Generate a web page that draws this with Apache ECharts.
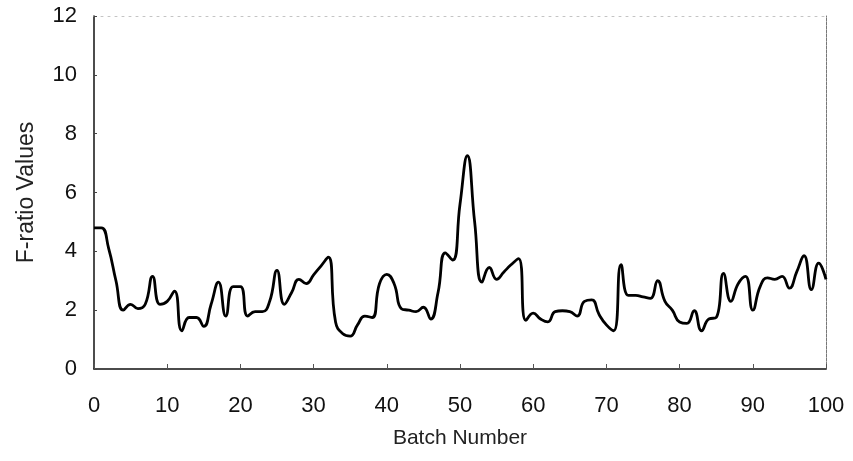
<!DOCTYPE html>
<html>
<head>
<meta charset="utf-8">
<script src="https://cdn.jsdelivr.net/npm/echarts@6/dist/echarts.min.js"></script>
<style>
  html, body { margin: 0; padding: 0; background: #fff; }
  #chart { width: 853px; height: 461px; }
</style>
</head>
<body>
<div id="chart"></div>
<script>
// F-ratio per batch, batches 0..100
const fRatio = [
  4.8, 4.8, 4.1, 3.0, 2.0, 2.2, 2.05, 2.2, 3.15, 2.2,
  2.3, 2.65, 1.3, 1.75, 1.75, 1.45, 2.2, 2.95, 1.8, 2.8,
  2.8, 1.8, 1.95, 1.95, 2.3, 3.35, 2.2, 2.6, 3.05, 2.9,
  3.2, 3.5, 3.8, 1.6, 1.2, 1.12, 1.5, 1.8, 1.75, 2.9,
  3.22, 2.9, 2.05, 2.0, 1.95, 2.1, 1.7, 2.6, 3.95, 3.7,
  5.6, 7.25, 5.0, 2.95, 3.45, 3.05, 3.3, 3.55, 3.75, 1.65,
  1.9, 1.7, 1.6, 1.95, 1.98, 1.95, 1.8, 2.3, 2.35, 1.85,
  1.5, 1.3, 3.55, 2.5, 2.5, 2.45, 2.4, 3.0, 2.3, 2.0,
  1.6, 1.55, 1.98, 1.3, 1.7, 1.75, 3.25, 2.3, 2.9, 3.15,
  2.0, 2.8, 3.1, 3.05, 3.15, 2.75, 3.3, 3.85, 2.7, 3.6,
  3.05
];
const xTicks = { min: 0, max: 100, interval: 10 };
const yTicks = { min: 0, max: 12, interval: 2 };

const points = fRatio.map((v, i) => [i, v]);

const fontStack = '"Liberation Sans", Arial, sans-serif';
const labelFont = { color: '#111', fontSize: 22, fontFamily: fontStack };

const chart = echarts.init(document.getElementById('chart'), null, { renderer: 'canvas' });
chart.setOption({
  animation: false,
  backgroundColor: '#fff',
  grid: { left: 94, right: 27, top: 16, bottom: 92, containLabel: false },
  xAxis: [
    {
      type: 'value', position: 'bottom',
      min: xTicks.min, max: xTicks.max, interval: xTicks.interval,
      name: 'Batch Number', nameLocation: 'middle', nameGap: 59,
      nameTextStyle: { color: '#222', fontSize: 21, fontFamily: fontStack },
      axisLine: { onZero: false, lineStyle: { color: '#111', width: 1.5 } },
      axisTick: { inside: true, length: 5, lineStyle: { color: '#555', width: 1 } },
      axisLabel: Object.assign({ margin: 26 }, labelFont),
      splitLine: { show: false }
    },
    {
      type: 'value', position: 'top',
      min: xTicks.min, max: xTicks.max,
      axisLine: { onZero: false, lineStyle: { color: '#c4c4c4', width: 1, type: [2, 5] } },
      axisTick: { show: false }, axisLabel: { show: false }, splitLine: { show: false }
    }
  ],
  yAxis: [
    {
      type: 'value', position: 'left',
      min: yTicks.min, max: yTicks.max, interval: yTicks.interval,
      name: 'F-ratio Values', nameLocation: 'middle', nameGap: 56,
      nameTextStyle: { color: '#222', fontSize: 23, fontFamily: fontStack },
      axisLine: { show: true, onZero: false, lineStyle: { color: '#111', width: 1.5 } },
      axisTick: { show: true, inside: true, length: 3, lineStyle: { color: '#444', width: 1 } },
      axisLabel: Object.assign({ margin: 17 }, labelFont),
      splitLine: { show: false }
    },
    {
      type: 'value', position: 'right',
      min: yTicks.min, max: yTicks.max,
      axisLine: { show: true, onZero: false, lineStyle: { color: '#777', width: 1, type: [3, 1] } },
      axisTick: { show: false }, axisLabel: { show: false }, splitLine: { show: false }
    }
  ],
  series: [{
    type: 'line',
    data: points,
    smooth: 0.5,
    symbol: 'none',
    lineStyle: { color: '#000', width: 2.8 },
    xAxisIndex: 0, yAxisIndex: 0
  }]
});
</script>
</body>
</html>
